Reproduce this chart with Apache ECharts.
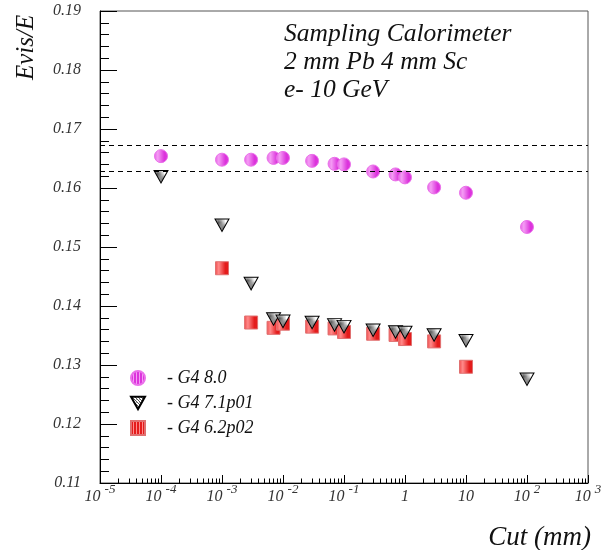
<!DOCTYPE html>
<html>
<head>
<meta charset="utf-8">
<script src="https://cdn.jsdelivr.net/npm/echarts@6/dist/echarts.min.js"></script>
<style>
html,body{margin:0;padding:0;background:#fff;}
#chart{width:614px;height:550px;}
</style>
</head>
<body>
<div id="chart"></div>
<script>
// ---- data ----
const cutCircle = [1e-4, 1e-3, 3e-3, 7e-3, 1e-2, 3e-2, 7e-2, 1e-1, 3e-1, 7e-1, 1, 3, 10, 100];
const g4_80 = [0.1654, 0.1648, 0.1648, 0.1651, 0.1651, 0.1646, 0.1641, 0.1640, 0.1628, 0.1623, 0.1618, 0.1601, 0.1592, 0.1534];

const cutTri = [1e-4, 1e-3, 3e-3, 7e-3, 1e-2, 3e-2, 7e-2, 1e-1, 3e-1, 7e-1, 1, 3, 10, 100];
const g4_71p01 = [0.1619, 0.1537, 0.1438, 0.1378, 0.1374, 0.1372, 0.1368, 0.1365, 0.1359, 0.1356, 0.1355, 0.1351, 0.1341, 0.1276];

const cutSq = [1e-3, 3e-3, 7e-3, 1e-2, 3e-2, 7e-2, 1e-1, 3e-1, 7e-1, 1, 3, 10];
const g4_62p02 = [0.1464, 0.1372, 0.1363, 0.1370, 0.1365, 0.1362, 0.1356, 0.1353, 0.1351, 0.1344, 0.1340, 0.1297];

const bandLines = [0.1673, 0.1628];
const seriesNames = ['G4 8.0', 'G4 7.1p01', 'G4 6.2p02'];
const titleLines = ['Sampling Calorimeter', '2 mm Pb 4 mm Sc', 'e- 10 GeV'];
const yTitle = 'Evis/E';
const xTitle = 'Cut (mm)';

// minor tick positions (in decades) for the log axis: k*10^n, k=2..9
const minorDecades = [];
for (let n = -5; n < 3; n++) for (let k = 2; k <= 9; k++) minorDecades.push(n + Math.log10(k));

function pair(xs, ys) { return xs.map((x, i) => [x, ys[i]]); }

function makePattern(w, h, draw) {
  const c = document.createElement('canvas');
  c.width = w; c.height = h;
  draw(c.getContext('2d'));
  return { image: c, repeat: 'repeat' };
}
const circlePat = makePattern(3, 1, ctx => {
  ctx.fillStyle = '#dc34dc'; ctx.fillRect(0, 0, 3, 1);
  ctx.fillStyle = '#f49cf4'; ctx.fillRect(2, 0, 1, 1);
});
const triPat = makePattern(3, 3, ctx => {
  ctx.fillStyle = '#ffffff'; ctx.fillRect(0, 0, 3, 3);
  ctx.fillStyle = '#555555';
  ctx.fillRect(0, 0, 1, 1); ctx.fillRect(1, 1, 1, 1); ctx.fillRect(2, 2, 1, 1);
  ctx.fillStyle = '#aaaaaa';
  ctx.fillRect(2, 0, 1, 1);
});
const sqPat = makePattern(3, 1, ctx => {
  ctx.fillStyle = '#e41c1c'; ctx.fillRect(0, 0, 3, 1);
  ctx.fillStyle = '#ff8a8a'; ctx.fillRect(2, 0, 1, 1);
});

const serif = '"Liberation Serif", "DejaVu Serif", serif';

const chart = echarts.init(document.getElementById('chart'), null, { renderer: 'canvas' });
chart.setOption({
  animation: false,
  backgroundColor: '#fff',
  title: {
    text: titleLines.join('\n'),
    left: 279, top: 15,
    textStyle: { fontFamily: serif, fontStyle: 'italic', fontWeight: 'normal', fontSize: 25.5, lineHeight: 28, color: '#111' }
  },
  grid: { left: 100, top: 11, width: 488, height: 472, show: true, borderColor: '#555', borderWidth: 1, containLabel: false },
  legend: {
    orient: 'vertical', left: 125, top: 364,
    itemWidth: 14, itemHeight: 14, itemGap: 7,
    data: seriesNames,
    formatter: name => '- ' + name,
    textStyle: { fontFamily: serif, fontStyle: 'italic', fontSize: 18, lineHeight: 16, color: '#111', padding: [0, 0, 0, 17] }
  },
  xAxis: [{
    type: 'log', logBase: 10, min: 1e-5, max: 1e3, interval: 1,
    axisLine: { show: true, onZero: false, lineStyle: { color: '#000', width: 1 } },
    axisTick: { show: true, inside: true, length: 8, lineStyle: { color: '#000' } },
    splitLine: { show: false },
    axisLabel: {
      margin: 0,
      showMinLabel: true, showMaxLabel: true,
      formatter: v => {
        const e = Math.round(Math.log10(v));
        if (e === 0) return '{b|1}';
        if (e === 1) return '{b|10}';
        return '{b|10}{e|' + e + '}';
      },
      rich: {
        b: { fontFamily: serif, fontStyle: 'italic', fontSize: 16, color: '#333', verticalAlign: 'bottom', lineHeight: 22 },
        e: { fontFamily: serif, fontStyle: 'italic', fontSize: 13, color: '#333', verticalAlign: 'top', lineHeight: 22, padding: [0, 0, 0, 4] }
      }
    }
  }, {
    type: 'value', min: -5, max: 3, position: 'bottom',
    axisLine: { show: false, onZero: false },
    axisLabel: { show: false },
    splitLine: { show: false },
    axisTick: { show: true, inside: true, length: 4.5, customValues: minorDecades, lineStyle: { color: '#000' } }
  }],
  yAxis: {
    type: 'value', min: 0.11, max: 0.19, interval: 0.01,
    axisLine: { show: true, onZero: false, lineStyle: { color: '#000', width: 1 } },
    axisTick: { show: true, inside: true, length: 17, lineStyle: { color: '#000' } },
    minorTick: { show: true, splitNumber: 5, length: 9, lineStyle: { color: '#000' } },
    splitLine: { show: false },
    axisLabel: {
      margin: 19, color: '#333',
      fontFamily: serif, fontStyle: 'italic', fontSize: 16,
      formatter: v => v.toFixed(2)
    }
  },
  graphic: [
    { type: 'text', x: 26, y: 80, rotation: Math.PI / 2,
      style: { text: yTitle, font: 'italic 25px ' + serif, fill: '#111', textAlign: 'left', textVerticalAlign: 'middle' } },
    { type: 'text', x: 591, y: 538,
      style: { text: xTitle, font: 'italic 27px ' + serif, fill: '#111', textAlign: 'right', textVerticalAlign: 'middle' } }
  ],
  series: [
    {
      name: seriesNames[0], type: 'scatter', xAxisIndex: 0, z: 2,
      symbol: 'circle', symbolSize: 13,
      itemStyle: { color: circlePat, borderColor: '#ea70ea', borderWidth: 1, opacity: 1 },
      data: pair(cutCircle, g4_80),
      markLine: {
        silent: true, symbol: 'none', label: { show: false }, precision: 5,
        lineStyle: { type: [5, 4], color: '#000', width: 1 },
        data: bandLines.map(v => ({ yAxis: v }))
      }
    },
    {
      name: seriesNames[1], type: 'scatter', xAxisIndex: 0, z: 4,
      symbol: 'path://M0,0 L14,0 L7,12.5 Z', symbolSize: [14, 12.5],
      itemStyle: { color: triPat, borderColor: '#000', borderWidth: 1, opacity: 1 },
      data: pair(cutTri, g4_71p01)
    },
    {
      name: seriesNames[2], type: 'scatter', xAxisIndex: 0, z: 3,
      symbol: 'rect', symbolSize: 13,
      itemStyle: { color: sqPat, borderColor: '#e07070', borderWidth: 1, opacity: 1 },
      data: pair(cutSq, g4_62p02)
    }
  ]
});
</script>
</body>
</html>
